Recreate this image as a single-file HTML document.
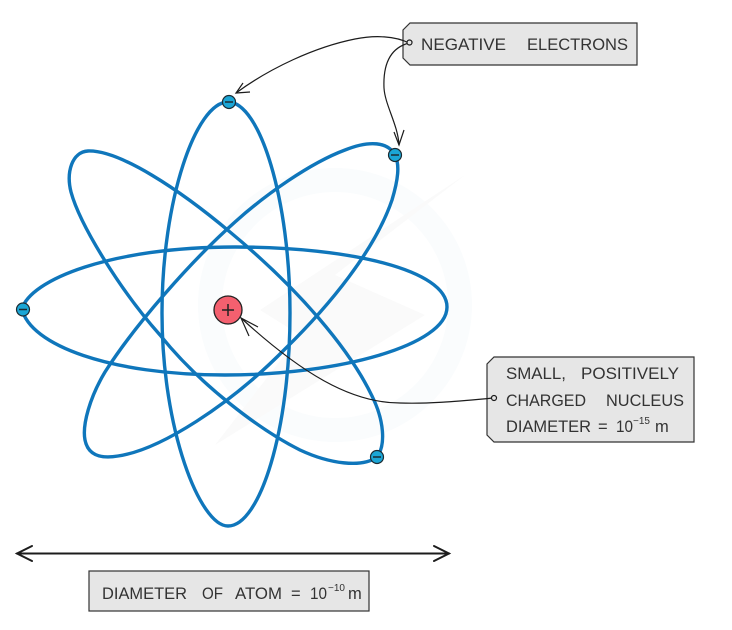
<!DOCTYPE html>
<html><head><meta charset="utf-8"><style>
html,body{margin:0;padding:0;background:#fff}
svg{display:block;filter:blur(.3px)}
text{font-family:"Liberation Sans",sans-serif;fill:#333;font-size:16.5px}
</style></head><body>
<svg width="732" height="630" viewBox="0 0 732 630" xmlns="http://www.w3.org/2000/svg">
<rect width="732" height="630" fill="#fff"/>
<!-- watermark -->
<circle cx="335" cy="305" r="125" fill="none" stroke="#fafcfd" stroke-width="24"/>
<path d="M465 175 L335 275 L425 315 L215 445 L300 335 L260 310 Z" fill="#fafafa"/>
<!-- orbits -->
<g fill="none" stroke="#0f76bb" stroke-width="3.4" stroke-linejoin="round">
<path d="M22 309 C30 280 110 247 235 247 C350 247 447 270 447 307 C447 345 340 375 225 375 C110 375 30 345 22 309Z"/>
<path d="M228 102 C196 102 162 200 162 313 C162 430 200 526 228 526 C260 526 290 430 290 313 C290 200 260 102 228 102Z"/>
<path d="M377 457 C386 445 384 420 372 396 C350 350 300 290 230 232 C180 190 120 150 88 151 C72 152 66 172 71 192 C80 225 120 290 160 335 C200 385 260 430 300 450 C330 464 362 468 377 457Z"/>
<path d="M395 155 C388 142 370 140 345 150 C310 163 265 195 235 222 C190 262 135 325 105 372 C90 397 82 425 85 440 C88 455 100 459 118 456 C160 450 230 405 285 349 C330 305 375 250 392 200 C398 180 400 165 395 155Z"/>
</g>
<!-- boxes -->
<g fill="#e6e6e6" stroke="#333" stroke-width="1.2">
<path d="M410 23 H637 V65 H410 L403 58 V30Z"/>
<path d="M494 357 H694 V442 H494 L487 435 V364Z"/>
<rect x="89" y="571" width="280" height="40"/>
</g>
<!-- connectors -->
<g fill="none" stroke="#1c1c1c" stroke-width="1.2">
<path d="M409 43 C395 36 375 35 355 39 C315 47 270 68 236 93"/>
<path d="M409 43 C390 48 383 65 384 88 C385 105 398 125 399 145"/>
<path d="M494 398 C460 401 430 404 400 403 C350 403 300 372 241 318"/>
<circle cx="409.500" cy="42.500" r="2.500" fill="#e6e6e6"/>
<circle cx="494" cy="398" r="2.500" fill="#e6e6e6"/>
<path d="M250 92 L236 93 L243 83"/>
<path d="M394 132 L399 145 L404 130"/>
<path d="M258 327 L241 318 L249 336"/>
</g>
<!-- dimension arrow -->
<g fill="none" stroke="#1c1c1c" stroke-width="2" stroke-linecap="round">
<path d="M17 553.500 H449"/>
<path d="M32 546 L17 553.500 L32 561"/>
<path d="M434 546 L449 553.500 L434 561"/>
</g>
<!-- electrons -->
<g fill="#1ba6d6" stroke="#1c2b33" stroke-width="1.2">
<circle cx="229" cy="102" r="6.500"/>
<circle cx="395" cy="155" r="6.500"/>
<circle cx="23" cy="309.500" r="6.500"/>
<circle cx="377" cy="457" r="6.500"/>
</g>
<g stroke="#1c2b33" stroke-width="1.500">
<path d="M225 102 H233"/><path d="M391 155 H399"/><path d="M19 309.500 H27"/><path d="M373 457 H381"/>
</g>
<!-- nucleus -->
<circle cx="228" cy="310" r="14" fill="#f4606f" stroke="#222" stroke-width="1.3"/>
<path d="M222 310 H234 M228 304 V316" stroke="#222" stroke-width="1.500"/>
<!-- labels -->
<text x="421" y="50" textLength="85" lengthAdjust="spacingAndGlyphs">NEGATIVE</text>
<text x="527" y="50" textLength="101" lengthAdjust="spacingAndGlyphs">ELECTRONS</text>
<text x="506" y="379" textLength="60" lengthAdjust="spacingAndGlyphs">SMALL,</text>
<text x="581" y="379" textLength="98" lengthAdjust="spacingAndGlyphs">POSITIVELY</text>
<text x="506" y="406" textLength="80" lengthAdjust="spacingAndGlyphs">CHARGED</text>
<text x="606" y="406" textLength="78" lengthAdjust="spacingAndGlyphs">NUCLEUS</text>
<text x="506" y="432" textLength="85" lengthAdjust="spacingAndGlyphs">DIAMETER</text>
<text x="598" y="432">=</text>
<text x="616" y="432" textLength="17" lengthAdjust="spacingAndGlyphs">10</text>
<text x="633" y="424" style="font-size:10px">−15</text>
<text x="655" y="432">m</text>
<text x="102" y="599" textLength="85" lengthAdjust="spacingAndGlyphs">DIAMETER</text>
<text x="202" y="599" textLength="21" lengthAdjust="spacingAndGlyphs">OF</text>
<text x="235" y="599" textLength="47" lengthAdjust="spacingAndGlyphs">ATOM</text>
<text x="291" y="599">=</text>
<text x="310" y="599" textLength="17" lengthAdjust="spacingAndGlyphs">10</text>
<text x="328" y="591" style="font-size:10px">−10</text>
<text x="348" y="599">m</text>
</svg>
</body></html>
